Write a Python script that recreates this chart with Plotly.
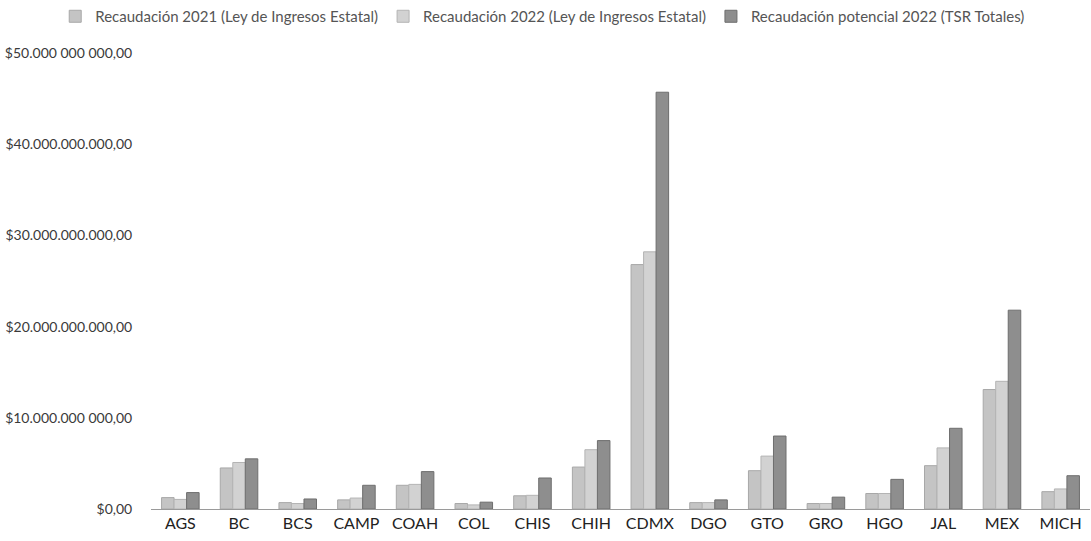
import plotly.graph_objects as go

estados = ["AGS", "BC", "BCS", "CAMP", "COAH", "COL", "CHIS", "CHIH", "CDMX",
           "DGO", "GTO", "GRO", "HGO", "JAL", "MEX", "MICH"]
# billions of pesos
rec_2021 = [1.25, 4.5, 0.7, 1.0, 2.6, 0.6, 1.45, 4.6, 26.8, 0.7, 4.2, 0.6, 1.7, 4.75, 13.1, 1.9]
rec_2022 = [1.05, 5.1, 0.6, 1.2, 2.7, 0.45, 1.5, 6.5, 28.2, 0.7, 5.8, 0.6, 1.7, 6.7, 14.0, 2.2]
rec_pot = [1.8, 5.5, 1.1, 2.6, 4.1, 0.75, 3.4, 7.5, 45.7, 1.0, 8.0, 1.3, 3.25, 8.85, 21.8, 3.65]

tick_vals = [0, 10e9, 20e9, 30e9, 40e9, 50e9]
tick_text = ["$0,00", "$10.000.000 000,00", "$20.000.000.000,00", "$30.000.000.000,00",
             "$40.000.000.000,00", "$50.000 000 000,00"]

series = [
    ("Recaudación 2021 (Ley de Ingresos Estatal)", rec_2021, "#c4c4c4", "#a8a8a8"),
    ("Recaudación 2022 (Ley de Ingresos Estatal)", rec_2022, "#d2d2d2", "#b4b4b4"),
    ("Recaudación potencial 2022 (TSR Totales)", rec_pot, "#8e8e8e", "#6e6e6e"),
]

fig = go.Figure()
for name, vals, col, edge in series:
    fig.add_trace(go.Bar(
        x=estados, y=[v * 1e9 for v in vals], name=name,
        marker=dict(color=col, line=dict(color=edge, width=1)),
    ))

fig.update_layout(
    width=1091, height=541,
    margin=dict(l=151, r=1, t=53, b=32, autoexpand=False),
    paper_bgcolor="white", plot_bgcolor="white",
    barmode="group", bargap=0.36, bargroupgap=0.0,
    font=dict(family="Lato, Open Sans, sans-serif", color="#333333"),
    legend=dict(orientation="h", x=-0.102, xanchor="left", y=1.08, yanchor="middle",
                font=dict(size=15, color="#555555"), itemwidth=30,
                tracegroupgap=0, traceorder="normal"),
    xaxis=dict(range=[-0.5, 15.5], showgrid=False, showline=True,
               linecolor="#9a9a9a", linewidth=1,
               tickfont=dict(size=16, color="#222222"), ticks=""),
    yaxis=dict(range=[0, 50e9], tickvals=tick_vals, ticktext=tick_text,
               showgrid=False, zeroline=False, showline=False,
               tickfont=dict(size=14, color="#3a3a3a"), ticklen=15,
               ticks="outside", tickcolor="white"),
)

fig.write_html("out.html", config={"displayModeBar": False},
               post_script="document.body.style.margin='0';")
